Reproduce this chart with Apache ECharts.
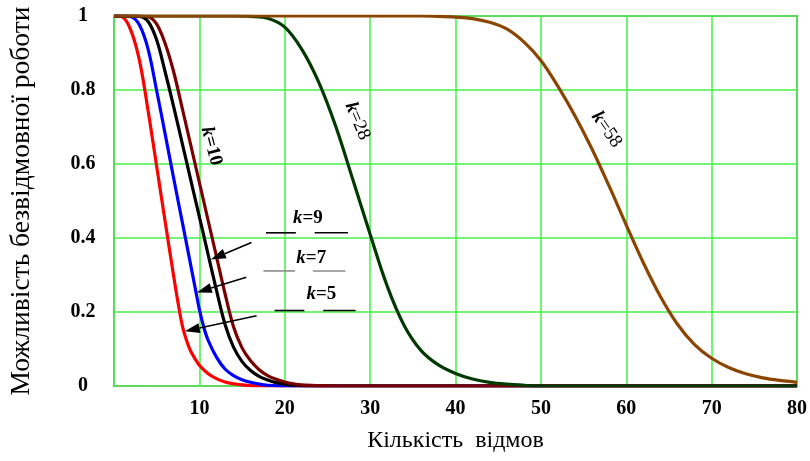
<!DOCTYPE html>
<html>
<head>
<meta charset="utf-8">
<script src="https://cdn.jsdelivr.net/npm/echarts@6/dist/echarts.min.js"></script>
<style>
  html, body { margin: 0; padding: 0; background: #ffffff; }
  #chart { width: 810px; height: 461px; }
</style>
</head>
<body>
<div id="chart"></div>
<script>
// Probability of failure-free operation vs. number of failures, for several k.
const xTicks = { min: 0, max: 80, step: 10 };
const yTicks = { min: 0, max: 1, step: 0.2 };

const k5 = [[0,1],[1,0.997],[2,0.96],[3,0.878],[4,0.743],[5,0.593],[6,0.443],[7,0.295],[7.5,0.225],[8,0.163],[8.5,0.123],[9,0.093],[10,0.056],[11,0.034],[12,0.02],[13,0.011],[14,0.006],[15,0.003],[16,0.001],[18,0],[80,0]];
const k7 = [[0,1],[1,1],[2,0.998],[3,0.975],[4,0.91],[5,0.798],[6,0.68],[7,0.56],[8,0.443],[9,0.325],[9.5,0.266],[10,0.207],[10.5,0.16],[11,0.125],[12,0.078],[13,0.046],[14,0.028],[15,0.017],[16,0.01],[17,0.005],[18,0.002],[20,0],[80,0]];
const k9 = [[0,1],[2,1],[3,0.999],[4,0.985],[5,0.935],[6,0.848],[7,0.754],[8,0.655],[9,0.556],[10,0.457],[11,0.358],[12,0.259],[13,0.167],[14,0.105],[15,0.066],[16,0.042],[17,0.026],[18,0.016],[19,0.009],[20,0.005],[21,0.002],[23,0],[80,0]];
const k10 = [[0,1],[3,1],[4,0.998],[5,0.978],[6,0.925],[7,0.848],[8,0.75],[9,0.65],[10,0.55],[11,0.45],[12,0.35],[13,0.25],[14,0.16],[15,0.103],[16,0.068],[17,0.044],[18,0.028],[19,0.018],[20,0.011],[21,0.006],[22,0.003],[24,0.001],[26,0],[80,0]];
const k28 = [[0,1],[14,1],[16,0.999],[18,0.994],[20,0.97],[22,0.91],[24,0.82],[26,0.7],[28,0.556],[30,0.41],[32,0.27],[34,0.163],[36,0.095],[38,0.057],[40,0.034],[42,0.019],[44,0.01],[46,0.005],[48,0.002],[50,0],[80,0]];
const k58 = [[0,1],[36,1],[38,0.999],[40,0.997],[42,0.993],[44,0.983],[46,0.965],[48,0.93],[50,0.88],[52,0.81],[54,0.73],[56,0.64],[58,0.54],[60,0.435],[62,0.333],[64,0.242],[66,0.167],[68,0.112],[70,0.075],[72,0.05],[74,0.033],[76,0.022],[78,0.015],[80,0.01]];

const seriesNames = ['k=5', 'k=7', 'k=9', 'k=10', 'k=28', 'k=58'];
const seriesData = [k5, k7, k9, k10, k28, k58];
const seriesColors = ['#ff0000', '#0000ff', '#000000', '#7a0000', '#003a00', '#8b4500'];

const serif = '"Liberation Serif", "DejaVu Serif", serif';

const chart = echarts.init(document.getElementById('chart'), null, { renderer: 'canvas' });

chart.setOption({
  backgroundColor: '#ffffff',
  animation: false,
  grid: {
    left: 114, right: 11, top: 16, bottom: 75,
    show: true, borderColor: '#9a9a9a', borderWidth: 2, backgroundColor: '#ffffff'
  },
  xAxis: {
    type: 'value',
    min: xTicks.min, max: xTicks.max, interval: xTicks.step,
    name: 'Кількість  відмов',
    nameLocation: 'middle', nameGap: 43,
    nameTextStyle: { fontFamily: serif, fontSize: 24, color: '#000' },
    axisLine: { show: false },
    axisTick: { show: false },
    axisLabel: {
      margin: 13, fontFamily: serif, fontWeight: 'bold', fontSize: 20, color: '#000',
      formatter: v => (v === 0 ? '' : String(v))
    },
    splitLine: { show: true, lineStyle: { color: '#44f044', width: 1.5 } }
  },
  yAxis: {
    type: 'value',
    min: yTicks.min, max: yTicks.max, interval: yTicks.step,
    name: 'Можливість безвідмовної роботи',
    nameLocation: 'middle', nameGap: 78,
    nameTextStyle: { fontFamily: serif, fontSize: 27.5, color: '#000' },
    axisLine: { show: false },
    axisTick: { show: false },
    axisLabel: {
      margin: 31, align: 'center', fontFamily: serif, fontWeight: 'bold', fontSize: 20, color: '#000',
      formatter: v => (v === 0 ? '0' : v === 1 ? '1' : v.toFixed(1))
    },
    splitLine: { show: true, lineStyle: { color: '#44f044', width: 1.5 } }
  },
  series: seriesData.map((d, i) => ({
    name: seriesNames[i],
    type: 'line',
    data: d,
    smooth: 0.35,
    symbol: 'none',
    lineStyle: { color: seriesColors[i], width: 3.2 },
    z: 2 + i
  }))
});

// Curve captions and pointer arrows, anchored in data coordinates.
const px = p => chart.convertToPixel({ gridIndex: 0 }, p);

const rich = (bold) => ({
  k: { fontFamily: serif, fontStyle: 'italic', fontWeight: 'bold', fontSize: 19, fill: '#000' },
  v: { fontFamily: serif, fontWeight: bold ? 'bold' : 'normal', fontSize: 19, fill: '#000' }
});

// angleDeg: clockwise turn of the caption, in degrees
function caption(label, at, angleDeg, bold) {
  const p = px(at);
  return {
    type: 'text', x: p[0], y: p[1], rotation: -angleDeg * Math.PI / 180, z: 50,
    style: {
      text: '{k|k}{v|=' + label + '}', rich: rich(bold),
      align: 'center', verticalAlign: 'middle'
    }
  };
}

function segment(a, b, color) {
  const p = px(a), q = px(b);
  return {
    type: 'line', z: 50,
    shape: { x1: p[0], y1: p[1], x2: q[0], y2: q[1] },
    style: { stroke: color, lineWidth: 1.6 }
  };
}

function arrow(from, tip) {
  const p = px(from), q = px(tip);
  const dx = q[0] - p[0], dy = q[1] - p[1];
  const len = Math.hypot(dx, dy);
  const ux = dx / len, uy = dy / len;
  const headLen = 15, halfW = 5;
  const bx = q[0] - ux * headLen, by = q[1] - uy * headLen;
  return [
    { type: 'line', z: 50, shape: { x1: p[0], y1: p[1], x2: bx, y2: by }, style: { stroke: '#000', lineWidth: 1.6 } },
    { type: 'polygon', z: 50,
      shape: { points: [[q[0], q[1]], [bx - uy * halfW, by + ux * halfW], [bx + uy * halfW, by - ux * halfW]] },
      style: { fill: '#000' } }
  ];
}

const graphics = [
  caption('10', [11.4, 0.648], 75, true),
  caption('28', [28.5, 0.716], 67, false),
  caption('58', [57.7, 0.693], 55, false),

  caption('9', [22.7, 0.455], 0, true),
  segment([17.8, 0.414], [21.3, 0.414], '#000'),
  segment([23.5, 0.414], [27.4, 0.414], '#000'),
  ...arrow([16.1, 0.388], [11.35, 0.342]),

  caption('7', [23.1, 0.346], 0, true),
  segment([17.5, 0.311], [21.2, 0.311], '#8a8a8a'),
  segment([23.3, 0.311], [27.1, 0.311], '#8a8a8a'),
  ...arrow([15.5, 0.294], [9.7, 0.253]),

  caption('5', [24.3, 0.248], 0, true),
  segment([18.8, 0.204], [22.3, 0.204], '#000'),
  segment([24.5, 0.204], [28.3, 0.204], '#000'),
  ...arrow([16.7, 0.19], [8.3, 0.148])
];

chart.setOption({ graphic: graphics });
</script>
</body>
</html>
